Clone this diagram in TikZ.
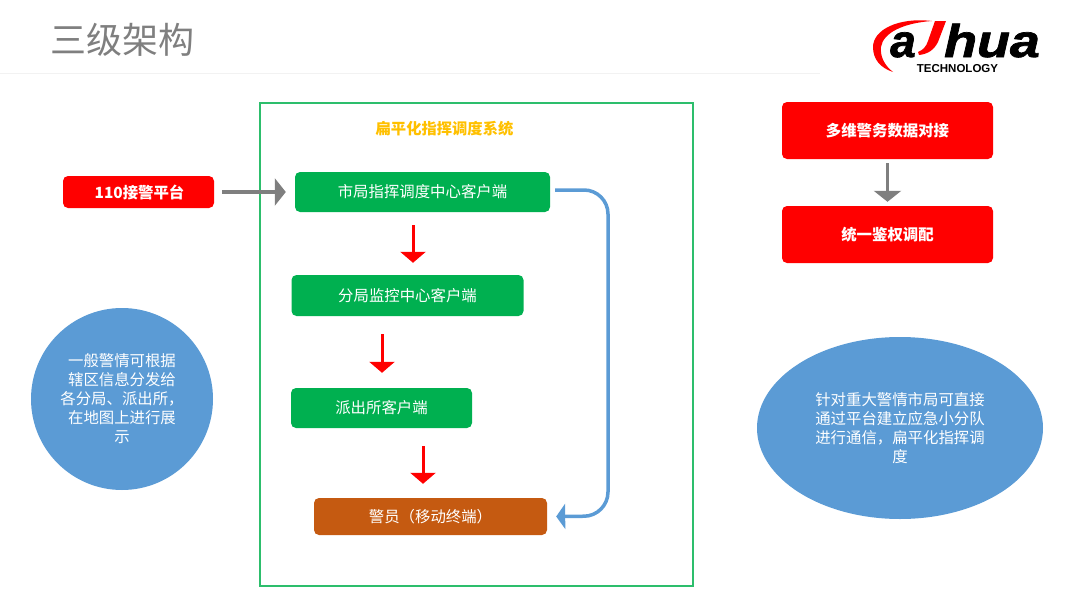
\documentclass[tikz,border=0pt]{standalone}
\usepackage{fontspec}
\setmainfont{Noto Sans CJK SC}
\newfontfamily\logofont[BoldFeatures={FakeBold=1.5},BoldItalicFeatures={FakeBold=1.5}]{Liberation Sans}
\newfontfamily\logotech{Liberation Sans}
\usetikzlibrary{arrows.meta,shapes.geometric}
\definecolor{kuang}{HTML}{2DBE6C}
\definecolor{lv}{HTML}{00B050}
\definecolor{hong}{HTML}{FF0000}
\definecolor{zong}{HTML}{C55A11}
\definecolor{lan}{HTML}{5B9BD5}
\definecolor{hui}{HTML}{7F7F7F}
\definecolor{huang}{HTML}{FFC000}
\tikzset{
    wenzi/.style={font=\fontsize{15.4}{19}\selectfont},
    kehu/.style={wenzi, rounded corners=5pt, fill=lv, text=white, anchor=center, inner sep=0pt},
    hongkuang/.style={wenzi, rounded corners=5pt, fill=hong, text=white, inner sep=0pt, font=\fontsize{15.4}{19}\selectfont\bfseries},
    shuoming/.style={wenzi, fill=lan, text=white, align=center, inner sep=0pt},
    huijt/.style={draw=hui, line width=3.2pt, -{Triangle[length=11pt,width=27pt]}},
    hongjt/.style={draw=hong, line width=3pt, -{Triangle[length=11pt,width=25pt]}},
    lanjt/.style={draw=lan, line width=3.5pt, rounded corners=24pt, -{Triangle[length=9pt,width=25pt]}}
}
\begin{document}
\begin{tikzpicture}[x=1pt, y=-1pt]
    \useasboundingbox (0,0) rectangle (1080,608);

    % Title
    \node[text=hui, anchor=center, font=\fontsize{36}{40}\selectfont] (biaoti) at (122,40) {三级架构};
    \fill[black!5] (0,72.5) rectangle (820,74);

    % Logo
    \fill[hong] (932,21) .. controls (898,17) and (873,30) .. (873,47)
        .. controls (873,60) and (881,68) .. (893,72)
        .. controls (884,65) and (880,56) .. (881,47)
        .. controls (883,33) and (903,23) .. (932,21) -- cycle;
    \fill[hong] (935,21) -- (946,21) -- (938,42) .. controls (934,50) and (928,54) .. (919,55)
        -- (918,52) .. controls (923,50) and (926,47) .. (928,41) -- cycle;
    \node[font=\logofont\bfseries\itshape\fontsize{46}{46}\selectfont, anchor=base, inner sep=0pt] (logoa) at (903,57) {a};
    \node[font=\logofont\bfseries\itshape\fontsize{46}{46}\selectfont, anchor=base, inner sep=0pt, xscale=1.17] (logohua) at (992,57) {hua};
    \node[font=\logotech\bfseries\fontsize{11.5}{12}\selectfont, anchor=base, inner sep=0pt] (logotechnology) at (957.5,72) {TECHNOLOGY};

    % Left side
    \node[hongkuang, minimum width=151pt, minimum height=32pt] (jiejing) at (138.5,192) {\hspace{2pt}110接警平台};
    \node[shuoming, circle, minimum size=182pt] (zuoyuan) at (122,399)
        {一般警情可根据\\辖区信息分发给\\各分局、派出所，\\在地图上进行展\\示};

    % Main frame
    \node[draw=kuang, line width=1.6pt, minimum width=433pt, minimum height=483pt, inner sep=0pt] (xitong) at (476.5,344.5) {};
    \node[text=huang, font=\fontsize{15.3}{19}\selectfont\bfseries, inner sep=0pt] (xitongming) at (444.5,129) {扁平化指挥调度系统};

    \node[kehu, minimum width=255pt, minimum height=40pt] (shiju) at (422.5,192) {市局指挥调度中心客户端};
    \node[kehu, minimum width=232pt, minimum height=41pt] (fenju) at (407.5,295.5) {分局监控中心客户端};
    \node[kehu, minimum width=181pt, minimum height=40pt] (paichusuo) at (381.5,408) {派出所客户端};
    \node[kehu, fill=zong, minimum width=233pt, minimum height=37pt] (jingyuan) at (430.5,516.5) {警员（移动终端）};

    \draw[huijt] ([xshift=8pt]jiejing.east) -- ([xshift=-9pt]shiju.west);
    \draw[hongjt] ([xshift=-9.5pt,yshift=-13pt]shiju.south) -- ([xshift=5.5pt,yshift=12pt]fenju.north);
    \draw[hongjt] ([xshift=-25.5pt,yshift=-18pt]fenju.south) -- ([xshift=0.5pt,yshift=15pt]paichusuo.north);
    \draw[hongjt] ([xshift=41.5pt,yshift=-18pt]paichusuo.south) -- ([xshift=-7.5pt,yshift=14pt]jingyuan.north);

    \coordinate (guai1) at (608,190);
    \coordinate (guai2) at (608,516);
    \draw[lanjt] ([xshift=5pt,yshift=2pt]shiju.east) -- (guai1) -- (guai2) -- ([xshift=9pt]jingyuan.east);

    % Right side
    \node[hongkuang, minimum width=211pt, minimum height=57pt] (duowei) at (887.5,130.5) {多维警务数据对接};
    \node[hongkuang, minimum width=211pt, minimum height=57pt] (jianquan) at (887.5,234.5) {统一鉴权调配};
    \draw[huijt] ([yshift=-4pt]duowei.south) -- ([yshift=4pt]jianquan.north);

    \node[shuoming, ellipse, minimum width=286pt, minimum height=182pt] (youyuan) at (900,428)
        {针对重大警情市局可直接\\通过平台建立应急小分队\\进行通信，扁平化指挥调\\度};
\end{tikzpicture}
\end{document}
